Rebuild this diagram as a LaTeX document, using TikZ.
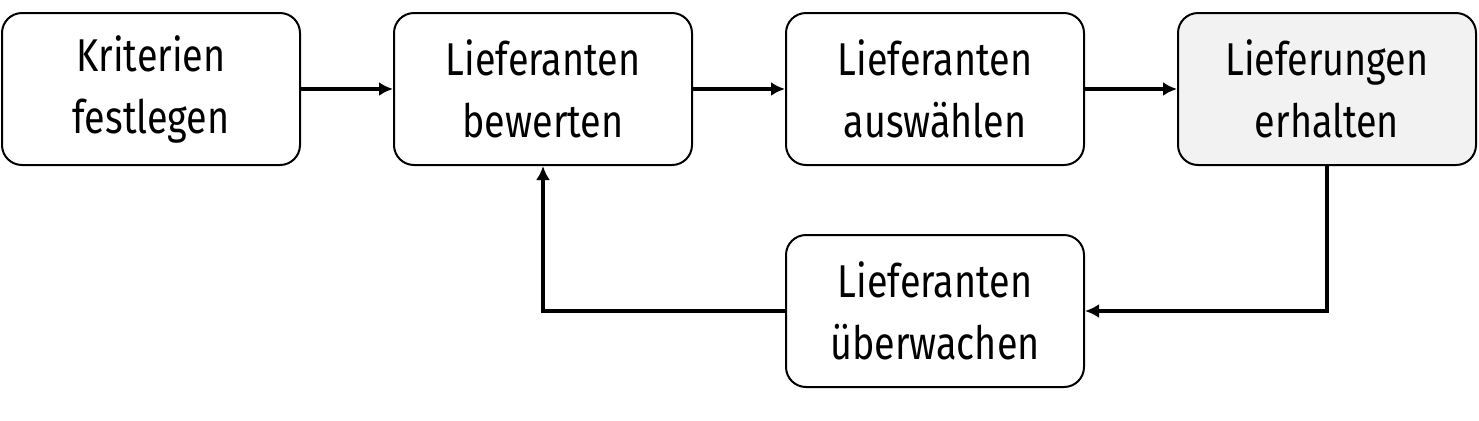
\documentclass[tikz,border=0pt]{standalone}
\usepackage{fontspec}
\setmainfont{Fira Sans}
\usetikzlibrary{positioning,arrows.meta}
\definecolor{stepgray}{RGB}{242,242,242}

\begin{document}
\begin{tikzpicture}[x=0.5pt,y=-0.5pt,
    stepbox/.style={draw, line width=1pt, rounded corners=10pt, fill=white,
        minimum width=149pt, minimum height=76pt, align=center,
        font=\fontsize{23}{31}\selectfont\addfontfeatures{FakeStretch=0.82}},
    flow/.style={line width=2pt, -{Latex[length=7pt,width=7pt]}}]
    \useasboundingbox (0,0) rectangle (1479,420);
    % main row
    \node[stepbox] (krit) at (151,89) {Kriterien\\festlegen};
    \node[stepbox, right=46pt of krit] (bew) {Lieferanten\\bewerten};
    \node[stepbox, right=46pt of bew] (ausw) {Lieferanten\\auswählen};
    \node[stepbox, right=46pt of ausw, fill=stepgray] (erh) {Lieferungen\\erhalten};
    % feedback
    \node[stepbox, below=34pt of ausw] (ueb) {Lieferanten\\überwachen};

    \draw[flow] (krit) -- (bew);
    \draw[flow] (bew) -- (ausw);
    \draw[flow] (ausw) -- (erh);
    \draw[flow] (erh.south) |- (ueb.east);
    \draw[flow] (ueb.west) -| (bew.south);
\end{tikzpicture}
\end{document}
